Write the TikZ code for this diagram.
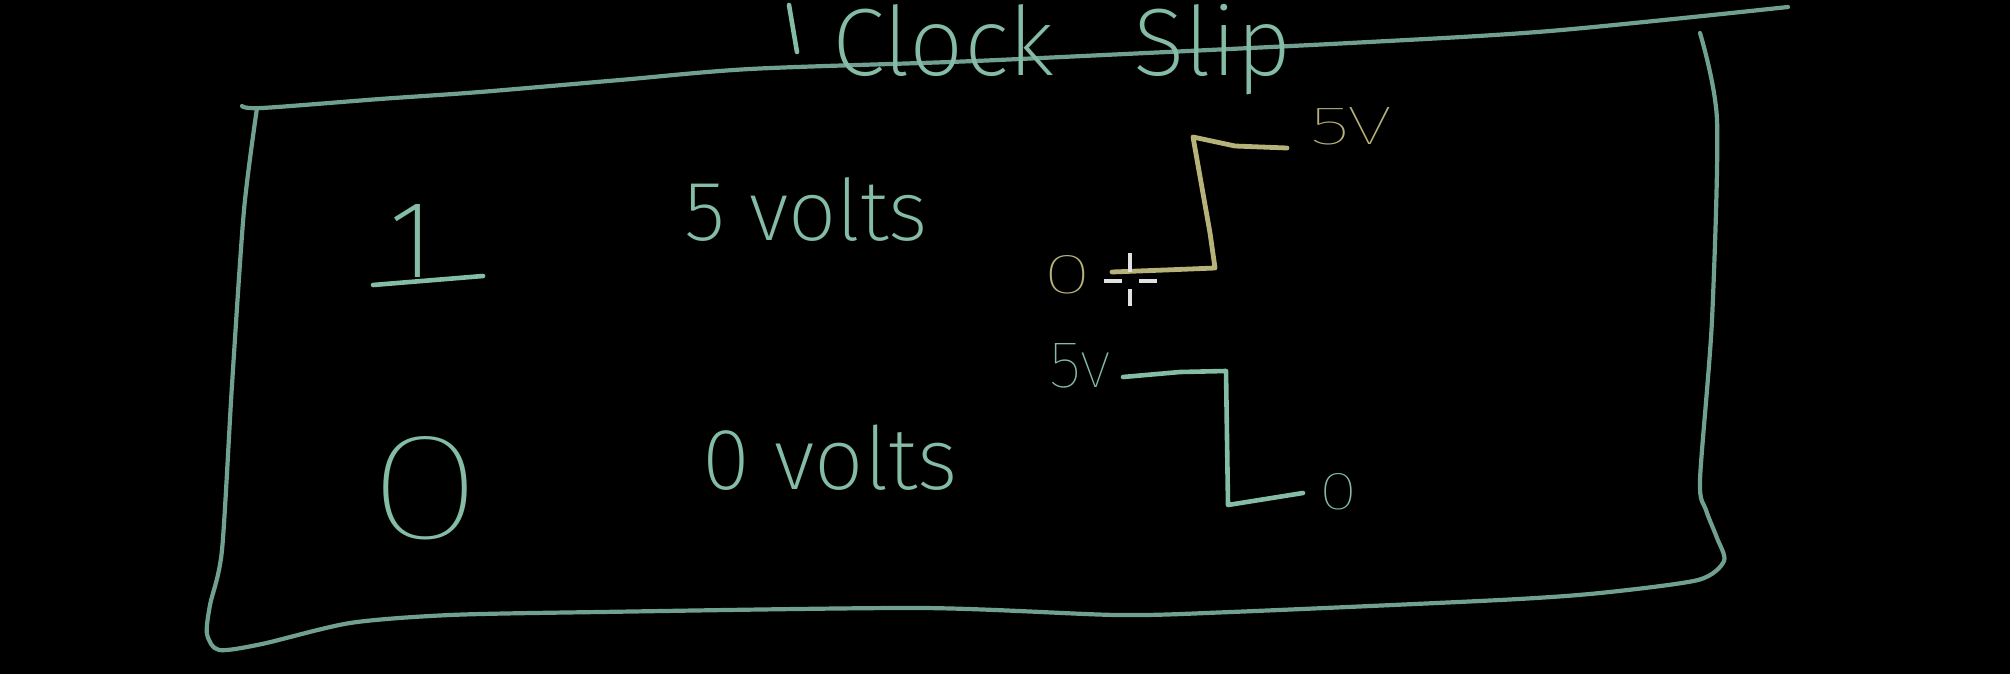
\documentclass[tikz,border=0pt]{standalone}
\usepackage{fontspec}
\usepackage{graphicx}
\newfontfamily\chalk{Fira Sans ExtraLight}
\newfontfamily\chalkthin{Fira Sans Thin}
\definecolor{boxgreen}{RGB}{112,160,145}
\definecolor{textgreen}{RGB}{132,188,166}
\definecolor{stepyellow}{RGB}{182,178,122}
\definecolor{cursorwhite}{RGB}{225,225,225}
\begin{document}
\begin{tikzpicture}[x=1pt,y=-1pt,line cap=round,line join=round,
  boxline/.style={draw=boxgreen,line width=4.2pt},
  greenline/.style={draw=textgreen,line width=4.6pt},
  yellowline/.style={draw=stepyellow,line width=4.8pt},
  chalktext/.style={inner sep=0pt,outer sep=0pt,font=\chalk,text=textgreen},
  thintext/.style={chalktext,font=\chalkthin},
  yellowtext/.style={thintext,text=stepyellow},
  cursorbar/.style={draw=cursorwhite,line width=4pt,line cap=butt}]
\fill[black] (0,0) rectangle (2010,674);
\useasboundingbox (0,0) rectangle (2010,674);

% frame
\draw[boxline] plot[smooth,tension=0.5] coordinates {(242,106) (262,108) (380,99) (480,92) (620,80) (750,69) (950,62) (1083,56) (1350,43) (1550,31) (1788,7)};
\draw[boxline] plot[smooth,tension=0.45] coordinates {(257,108) (244,210) (232,385) (222,550) (210,605) (207,634) (219,650) (262,644) (350,623) (450,615) (600,612) (921,608) (1117,615) (1231,612) (1500,600) (1600,593) (1698,580) (1724,561) (1717,538) (1706,510) (1700,480) (1712,320) (1717,120) (1700,33)};

% small tick and title
\draw[greenline] (789,5) -- (797,52);
\node[chalktext,anchor=base west] (title) at (832,76) {\resizebox{460pt}{!}{\fontsize{88}{90}\selectfont Clock\hspace{72pt}Slip}};

% left column
\node[chalktext,anchor=base] (one) at (412,277) {\fontsize{110}{112}\selectfont 1};
\draw[greenline] (373,285) -- (483,276);
\node[thintext] (zero) at (425,488) {\resizebox{116pt}{102pt}{\fontsize{130}{132}\selectfont 0}};

% middle column
\node[chalktext,anchor=base west] (fivevolts) at (684,240) {\resizebox{244pt}{!}{\fontsize{84}{86}\selectfont 5 volts}};
\node[chalktext,anchor=base west] (zerovolts) at (702,489) {\resizebox{256pt}{!}{\fontsize{84}{86}\selectfont 0 volts}};

% yellow rising step
\node[yellowtext] (ylow) at (1067,275) {\resizebox{48pt}{38pt}{\fontsize{60}{62}\selectfont 0}};
\node[yellowtext,anchor=base west] (yhigh) at (1310,145) {\resizebox{82pt}{37pt}{\fontsize{60}{62}\selectfont 5V}};
\coordinate (ya) at (1112,272);
\coordinate (yb) at (1215,268);
\coordinate (yc) at (1193,137);
\coordinate (yd) at (1287,148);
\draw[yellowline] (ya) -- (1165,270) -- (yb) -- (1210,233) -- (yc) -- (1235,146) -- (yd);

% cursor
\draw[cursorbar] (1130,253) -- (1130,272);
\draw[cursorbar] (1130,289) -- (1130,306);
\draw[cursorbar] (1104,281) -- (1122,281);
\draw[cursorbar] (1139,281) -- (1157,281);

% green falling step
\node[thintext,anchor=base west] (ghigh) at (1049,387) {\resizebox{62pt}{44pt}{\fontsize{60}{62}\selectfont 5v}};
\node[thintext] (glow) at (1338,492) {\resizebox{38pt}{36pt}{\fontsize{60}{62}\selectfont 0}};
\coordinate (ga) at (1123,377);
\coordinate (gb) at (1226,371);
\coordinate (gc) at (1228,505);
\coordinate (gd) at (1303,493);
\draw[greenline] (ga) -- (1180,372) -- (gb) -- (gc) -- (gd);
\end{tikzpicture}
\end{document}
